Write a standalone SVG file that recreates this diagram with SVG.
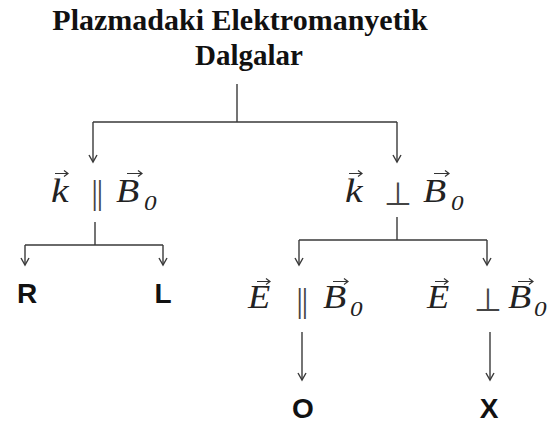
<svg xmlns="http://www.w3.org/2000/svg" width="549" height="424" viewBox="0 0 549 424">
<defs>
<style>
.title{font-family:"Liberation Serif","Times New Roman",serif;font-weight:bold;fill:#111;text-anchor:middle}
.m{font-family:"Liberation Serif","Times New Roman",serif;font-style:italic;font-size:33px;fill:#222}
.sub{font-family:"Liberation Serif","Times New Roman",serif;font-style:italic;font-size:21px;fill:#222}
.op{font-family:"Liberation Serif","Times New Roman",serif;font-size:34px;fill:#444;text-anchor:middle;letter-spacing:-1.5px}
.perp{font-family:"DejaVu Sans",sans-serif;font-size:32px;fill:#444;text-anchor:middle}
.lbl{font-family:"Liberation Sans",Arial,sans-serif;font-weight:bold;font-size:28px;fill:#111;text-anchor:middle}
.c{fill:none;stroke:#3a3a3a;stroke-width:1.4}
.vec{fill:none;stroke:#333;stroke-width:1.2}
</style>
<marker id="ah" markerWidth="10" markerHeight="10" refX="8" refY="5" orient="auto" markerUnits="userSpaceOnUse">
<path d="M1,1 L8,5 L1,9" fill="none" stroke="#3a3a3a" stroke-width="1.4"/>
</marker>
</defs>
<rect width="549" height="424" fill="#fff"/>
<g id="title">
<text class="title" x="240" y="30" font-size="30">Plazmadaki Elektromanyetik</text>
<text class="title" x="249" y="65" font-size="29">Dalgalar</text>
</g>
<g id="connectors">
<path class="c" d="M237,84 V122 M93,122 H397"/>
<path class="c" d="M93,122 V162" marker-end="url(#ah)"/>
<path class="c" d="M397,122 V162" marker-end="url(#ah)"/>
<path class="c" d="M95,222 V245 M25,245 H163"/>
<path class="c" d="M25,245 V265" marker-end="url(#ah)"/>
<path class="c" d="M163,245 V265" marker-end="url(#ah)"/>
<path class="c" d="M397,217 V240 M299,240 H487"/>
<path class="c" d="M299,240 V265" marker-end="url(#ah)"/>
<path class="c" d="M487,240 V265" marker-end="url(#ah)"/>
<path class="c" d="M302,332 V380" marker-end="url(#ah)"/>
<path class="c" d="M490,332 V380" marker-end="url(#ah)"/>
</g>
<g id="k-par-B0">
<text class="m" transform="translate(51,202) scale(1.2,1)">k</text>
<path class="vec" d="M55,173.5 H68 M64,170.5 L68,173.5 L64,176.5"/>
<text class="op" x="96.5" y="204">||</text>
<text class="m" transform="translate(116,202) scale(1.15,1)">B</text>
<path class="vec" d="M127,173.5 H142 M138,170.5 L142,173.5 L138,176.5"/>
<text class="sub" transform="translate(144,210) scale(1.2,1)">0</text>
</g>
<g id="k-perp-B0">
<text class="m" transform="translate(345,202) scale(1.2,1)">k</text>
<path class="vec" d="M349,173.5 H362 M358,170.5 L362,173.5 L358,176.5"/>
<text class="perp" x="398" y="205">⊥</text>
<text class="m" transform="translate(423,202) scale(1.15,1)">B</text>
<path class="vec" d="M434,173.5 H449 M445,170.5 L449,173.5 L445,176.5"/>
<text class="sub" transform="translate(451,210) scale(1.2,1)">0</text>
</g>
<g id="R"><text class="lbl" x="27" y="303">R</text></g>
<g id="L"><text class="lbl" x="163" y="303">L</text></g>
<g id="E-par-B0">
<text class="m" transform="translate(248,308) scale(1.1,1)">E</text>
<path class="vec" d="M257,281.5 H270 M266,278.5 L270,281.5 L266,284.5"/>
<text class="op" x="301.5" y="312">||</text>
<text class="m" transform="translate(323,308) scale(1.15,1)">B</text>
<path class="vec" d="M333,281.5 H348 M344,278.5 L348,281.5 L344,284.5"/>
<text class="sub" transform="translate(350,316) scale(1.2,1)">0</text>
</g>
<g id="E-perp-B0">
<text class="m" transform="translate(427,308) scale(1.1,1)">E</text>
<path class="vec" d="M435,281.5 H448 M444,278.5 L448,281.5 L444,284.5"/>
<text class="perp" x="488" y="311">⊥</text>
<text class="m" transform="translate(508,308) scale(1.15,1)">B</text>
<path class="vec" d="M518,281.5 H533 M529,278.5 L533,281.5 L529,284.5"/>
<text class="sub" transform="translate(534,316) scale(1.2,1)">0</text>
</g>
<g id="O"><text class="lbl" x="303" y="418">O</text></g>
<g id="X"><text class="lbl" x="489" y="418">X</text></g>
</svg>
